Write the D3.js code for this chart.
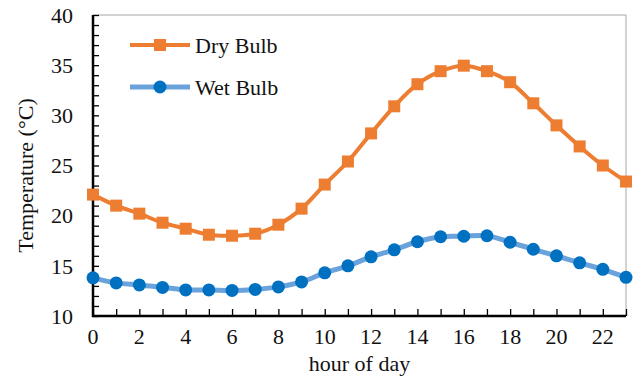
<!DOCTYPE html>
<html>
<head>
<meta charset="utf-8">
<script src="https://cdn.jsdelivr.net/npm/d3@7/dist/d3.min.js"></script>
<style>
  html, body { margin: 0; padding: 0; background: #fff; }
  svg { display: block; }
  text { font-family: "Liberation Serif", "Times New Roman", serif; fill: #111; }
</style>
</head>
<body>
<svg id="chart" width="633" height="379"></svg>
<script>
// Hourly temperatures over one day
const hours = d3.range(0, 24);
const dryBulb = [22.1, 21.0, 20.2, 19.3, 18.7, 18.1, 18.0, 18.2, 19.1, 20.7,
                 23.1, 25.4, 28.2, 30.9, 33.1, 34.4, 34.95, 34.4, 33.3, 31.2,
                 29.0, 26.9, 25.0, 23.4];
const wetBulb = [13.8, 13.3, 13.1, 12.85, 12.6, 12.6, 12.55, 12.65, 12.9, 13.4,
                 14.3, 15.0, 15.9, 16.6, 17.4, 17.9, 17.95, 18.0, 17.35, 16.65,
                 16.0, 15.3, 14.65, 13.85];
const xTickLabels = [0, 2, 4, 6, 8, 10, 12, 14, 16, 18, 20, 22];
const yTickLabels = [10, 15, 20, 25, 30, 35, 40];
const seriesNames = ["Dry Bulb", "Wet Bulb"];

const svg = d3.select("#chart");
const margin = { left: 93, right: 7, top: 15, bottom: 63 };
const W = 633, H = 379;
const fontSize = 22;

const x = d3.scaleLinear().domain([0, 23]).range([margin.left, W - margin.right]);
const y = d3.scaleLinear().domain([10, 40]).range([H - margin.bottom, margin.top]);

// frame: thin grey top and right edges
svg.append("path")
  .attr("d", `M${x(0)},${y(40)}H${x(23)}V${y(10)}`)
  .attr("fill", "none").attr("stroke", "#a6a6a6").attr("stroke-width", 1);

// y axis with inward minor ticks every degree
const yAxis = svg.append("g").attr("transform", `translate(${x(0)},0)`)
  .call(d3.axisRight(y).tickValues(d3.range(10, 41, 1)).tickSize(6).tickFormat(""));
yAxis.select(".domain").remove();
yAxis.selectAll(".tick line").attr("stroke", "#000").attr("stroke-width", 1.3);

svg.append("g").selectAll("text").data(yTickLabels).join("text")
  .attr("x", x(0) - 20).attr("y", d => y(d)).attr("dy", "0.35em")
  .attr("text-anchor", "end").attr("font-size", fontSize).text(d => d);

// x axis with inward ticks every hour
const xAxis = svg.append("g").attr("transform", `translate(0,${y(10)})`)
  .call(d3.axisTop(x).tickValues(hours).tickSize(7).tickFormat(""));
xAxis.select(".domain").remove();
xAxis.selectAll(".tick line").attr("stroke", "#000").attr("stroke-width", 1.3);

svg.append("g").selectAll("text").data(xTickLabels).join("text")
  .attr("x", d => x(d)).attr("y", y(10) + 28)
  .attr("text-anchor", "middle").attr("font-size", fontSize).text(d => d);

// axis lines
svg.append("path")
  .attr("d", `M${x(0)},${y(40)}V${y(10)}H${x(23)}`)
  .attr("fill", "none").attr("stroke", "#000").attr("stroke-width", 2.5);

// axis titles
svg.append("text").attr("x", (x(0) + x(23)) / 2).attr("y", 371)
  .attr("text-anchor", "middle").attr("font-size", fontSize).text("hour of day");
svg.append("text").attr("transform", `translate(33,${(y(10) + y(40)) / 2 + 10}) rotate(-90)`)
  .attr("text-anchor", "middle").attr("font-size", fontSize).text("Temperature (°C)");

const line = d3.line().x((d, i) => x(hours[i])).y(d => y(d)).curve(d3.curveCatmullRom.alpha(0.5));

// wet bulb
svg.append("path").datum(wetBulb).attr("d", line)
  .attr("fill", "none").attr("stroke", "#6aa2db").attr("stroke-width", 5);
svg.append("g").selectAll("circle").data(wetBulb).join("circle")
  .attr("cx", (d, i) => x(hours[i])).attr("cy", d => y(d)).attr("r", 6.5)
  .attr("fill", "#0070c0");

// dry bulb
svg.append("path").datum(dryBulb).attr("d", line)
  .attr("fill", "none").attr("stroke", "#ed7d31").attr("stroke-width", 4);
const sq = 12;
svg.append("g").selectAll("rect").data(dryBulb).join("rect")
  .attr("x", (d, i) => x(hours[i]) - sq / 2).attr("y", d => y(d) - sq / 2)
  .attr("width", sq).attr("height", sq).attr("fill", "#ed7d31");

// legend
const legend = svg.append("g");
const legY = [45, 87];
legend.append("line").attr("x1", 130).attr("x2", 190).attr("y1", legY[0]).attr("y2", legY[0])
  .attr("stroke", "#ed7d31").attr("stroke-width", 4);
legend.append("rect").attr("x", 160 - sq / 2).attr("y", legY[0] - sq / 2)
  .attr("width", sq).attr("height", sq).attr("fill", "#ed7d31");
legend.append("line").attr("x1", 130).attr("x2", 190).attr("y1", legY[1]).attr("y2", legY[1])
  .attr("stroke", "#6aa2db").attr("stroke-width", 5);
legend.append("circle").attr("cx", 160).attr("cy", legY[1]).attr("r", 6.5).attr("fill", "#0070c0");
legend.selectAll("text").data(seriesNames).join("text")
  .attr("x", 195).attr("y", (d, i) => legY[i]).attr("dy", "0.35em")
  .attr("font-size", fontSize).text(d => d);
</script>
</body>
</html>
